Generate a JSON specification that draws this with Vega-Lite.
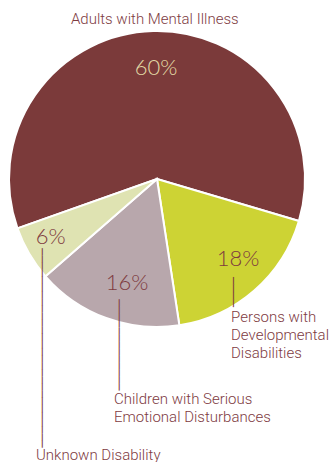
{
  "$schema": "https://vega.github.io/schema/vega-lite/v6.json",
  "width": 314,
  "height": 358,
  "autosize": {"type": "none"},
  "padding": {"left": 0, "top": 0, "right": 18, "bottom": 104},
  "background": "white",
  "config": {"view": {"stroke": null}, "text": {"font": "Roboto"}},
  "data": {
    "values": [
      {"category": "Adults with Mental Illness", "label": "Adults with Mental Illness", "value": 0.60},
      {"category": "Persons with Developmental Disabilities", "label": "Persons with\nDevelopmental\nDisabilities", "value": 0.18},
      {"category": "Children with Serious Emotional Disturbances", "label": "Children with Serious\nEmotional Disturbances", "value": 0.16},
      {"category": "Unknown Disability", "label": "Unknown Disability", "value": 0.06}
    ]
  },
  "encoding": {
    "theta": {"field": "value", "type": "quantitative", "stack": true, "scale": {"range": [4.3721, 10.6553]}},
    "order": {"field": "value", "type": "quantitative", "sort": "descending"}
  },
  "layer": [
    {
      "mark": {"type": "arc", "radius": 148, "stroke": "white", "strokeWidth": 2},
      "encoding": {
        "color": {
          "field": "category", "type": "nominal", "legend": null,
          "scale": {
            "domain": ["Adults with Mental Illness", "Persons with Developmental Disabilities", "Children with Serious Emotional Disturbances", "Unknown Disability"],
            "range": ["#7B3A3A", "#CDD334", "#B8A7AC", "#DFE3B2"]
          }
        }
      }
    },
    {
      "mark": {"type": "text", "radius": 112, "dx": 2, "dy": 1, "font": "Lato", "fontSize": 22, "fontWeight": 300, "align": "center", "baseline": "middle", "color": "#E3DBA6"},
      "encoding": {"text": {"field": "value", "type": "quantitative", "format": ".0%", "condition": {"test": "datum.category !== 'Adults with Mental Illness'", "value": ""}}}
    },
    {
      "mark": {"type": "text", "radius": 112, "dx": 7.4, "dy": -4.4, "font": "Lato", "fontSize": 22, "fontWeight": 300, "align": "center", "baseline": "middle", "color": "#7E3B3F"},
      "encoding": {"text": {"field": "value", "type": "quantitative", "format": ".0%", "condition": {"test": "datum.category !== 'Persons with Developmental Disabilities'", "value": ""}}}
    },
    {
      "mark": {"type": "text", "radius": 112, "dx": 8.5, "dy": -1, "font": "Lato", "fontSize": 22, "fontWeight": 300, "align": "center", "baseline": "middle", "color": "#7E3B3F"},
      "encoding": {"text": {"field": "value", "type": "quantitative", "format": ".0%", "condition": {"test": "datum.category !== 'Children with Serious Emotional Disturbances'", "value": ""}}}
    },
    {
      "mark": {"type": "text", "radius": 112, "dx": -9.5, "dy": 1.2, "font": "Lato", "fontSize": 22, "fontWeight": 300, "align": "center", "baseline": "middle", "color": "#7E3B3F"},
      "encoding": {"text": {"field": "value", "type": "quantitative", "format": ".0%", "condition": {"test": "datum.category !== 'Unknown Disability'", "value": ""}}}
    },
    {
      "mark": {"type": "text", "radius": 112, "dx": 0.7, "dy": -43, "fontSize": 15, "fontWeight": 300, "align": "center", "baseline": "alphabetic", "color": "#7E3B3F"},
      "encoding": {"text": {"field": "label", "condition": {"test": "datum.category !== 'Adults with Mental Illness'", "value": ""}}}
    },
    {
      "mark": {"type": "text", "radius": 112, "dx": 0.4, "dy": 58.6, "fontSize": 15, "fontWeight": 300, "align": "left", "baseline": "alphabetic", "lineBreak": "\n", "lineHeight": 18, "color": "#7E3B3F"},
      "encoding": {"text": {"field": "label", "condition": {"test": "datum.category !== 'Persons with Developmental Disabilities'", "value": ""}}}
    },
    {
      "mark": {"type": "text", "radius": 112, "dx": -4.5, "dy": 119.8, "fontSize": 15, "fontWeight": 300, "align": "left", "baseline": "alphabetic", "lineBreak": "\n", "lineHeight": 18, "color": "#7E3B3F"},
      "encoding": {"text": {"field": "label", "condition": {"test": "datum.category !== 'Children with Serious Emotional Disturbances'", "value": ""}}}
    },
    {
      "mark": {"type": "text", "radius": 112, "dx": -24.3, "dy": 224.5, "fontSize": 15, "fontWeight": 300, "align": "left", "baseline": "alphabetic", "lineBreak": "\n", "lineHeight": 18, "color": "#7E3B3F"},
      "encoding": {"text": {"field": "label", "condition": {"test": "datum.category !== 'Unknown Disability'", "value": ""}}}
    },
    {
      "mark": {"type": "text", "radius": 112, "angle": 90, "dx": 13.6, "dy": -2.1, "font": "DejaVu Sans", "fontSize": 12.46, "align": "left", "baseline": "middle", "color": "#7E3B3F"},
      "encoding": {"text": {"condition": {"test": "datum.category === 'Persons with Developmental Disabilities'", "value": "────"}, "value": ""}}
    },
    {
      "mark": {"type": "text", "radius": 112, "angle": 90, "dx": 15.1, "dy": -0.5, "font": "DejaVu Sans", "fontSize": 11.68, "align": "left", "baseline": "middle", "color": "#7E3B3F"},
      "encoding": {"text": {"condition": {"test": "datum.category === 'Children with Serious Emotional Disturbances'", "value": "─────────────"}, "value": ""}}
    },
    {
      "mark": {"type": "text", "radius": 112, "angle": 90, "dx": 12.8, "dy": 18.4, "font": "DejaVu Sans", "fontSize": 11.83, "align": "left", "baseline": "middle", "color": "#7E3B3F"},
      "encoding": {"text": {"condition": {"test": "datum.category === 'Unknown Disability'", "value": "────────────────────────────"}, "value": ""}}
    }
  ]
}
